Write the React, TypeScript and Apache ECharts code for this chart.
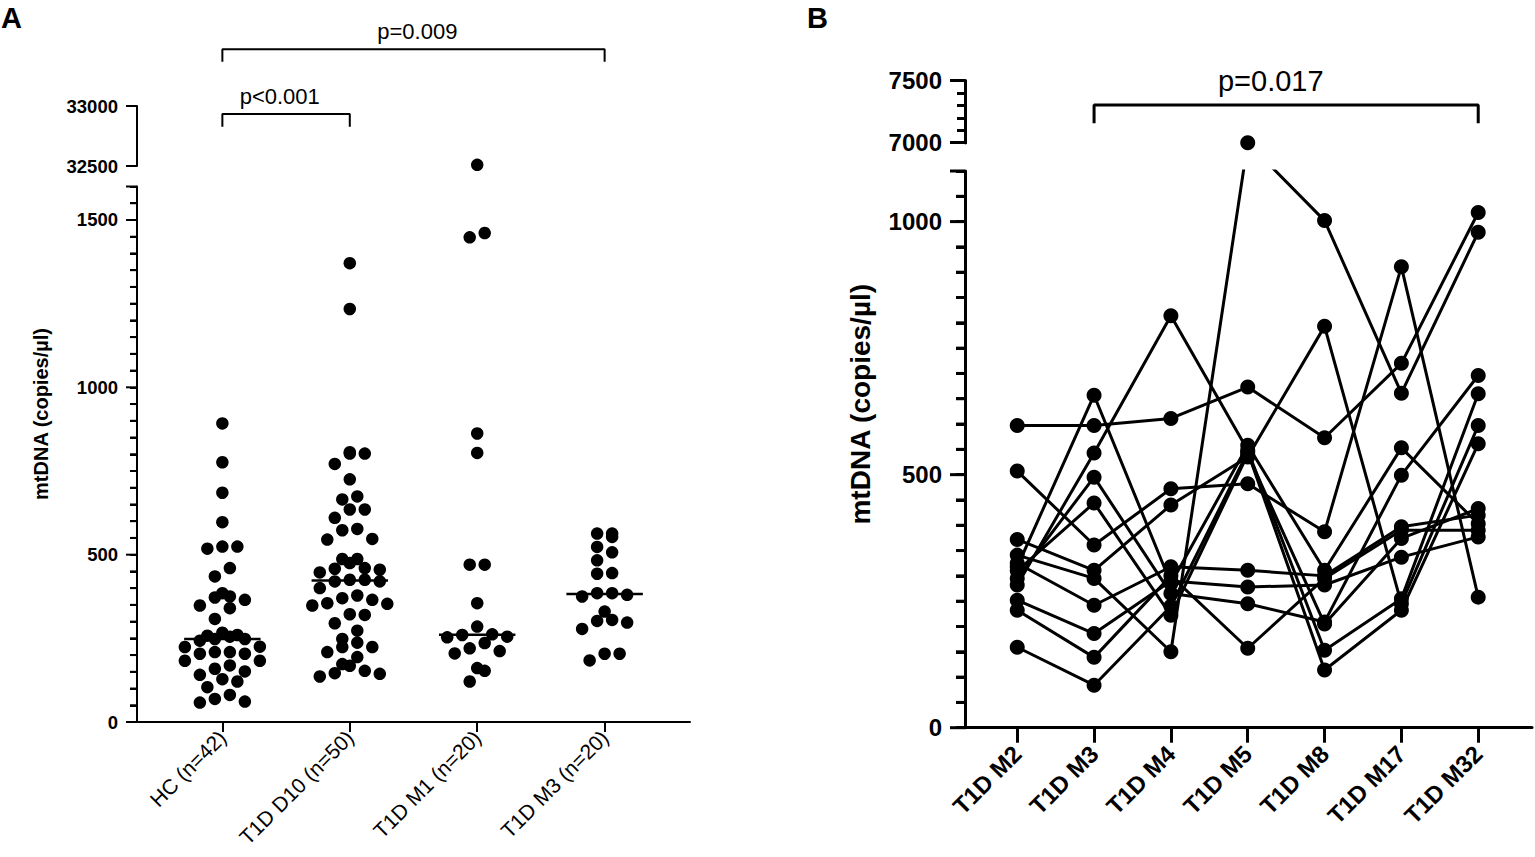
import React, { useEffect, useRef } from 'react';
import * as echarts from 'echarts';

const FONT = '"Liberation Sans", Arial, Helvetica, sans-serif';

// ---------- Panel A data ----------
const groupsA = ['HC (n=42)', 'T1D D10 (n=50)', 'T1D M1 (n=20)', 'T1D M3 (n=20)'];
const hcValues = [892, 776, 685, 597, 524, 518, 524, 460, 435, 372, 375, 385, 365, 340, 348, 308, 267, 258, 255, 248, 248, 243, 260, 224, 225, 204, 204, 209, 209, 183, 183, 159, 169, 141, 151, 128, 104, 81, 121, 58, 61, 69];
const d10Values = [1371, 1234, 806, 802, 802, 771, 725, 674, 665, 635, 635, 610, 577, 573, 547, 545, 487, 487, 475, 460, 458, 455, 447, 425, 425, 420, 420, 400, 378, 370, 365, 355, 353, 348, 322, 320, 295, 273, 248, 237, 224, 224, 209, 194, 173, 168, 153, 146, 144, 136];
const m1Values = [32510, 1461, 1448, 862, 804, 470, 470, 355, 285, 262, 260, 255, 253, 236, 220, 212, 205, 161, 153, 121];
const m3Values = [563, 563, 553, 523, 507, 483, 445, 443, 385, 385, 380, 375, 330, 305, 302, 297, 278, 204, 204, 184];
const ticksALower = [0, 500, 1000, 1500];
const ticksAUpper = [32500, 33000];
const pTextA1 = 'p=0.009';
const pTextA2 = 'p<0.001';

// ---------- Panel B data ----------
const timepointsB = ['T1D M2', 'T1D M3', 'T1D M4', 'T1D M5', 'T1D M8', 'T1D M17', 'T1D M32'];
const subj01 = [597, 597, 611, 673, 573, 720, 1018];
const subj02 = [507, 361, 472, 482, 387, 911, 258];
const subj03 = [372, 311, 440, 535, 793, 245, 597];
const subj04 = [341, 295, 150, 7000, 1002, 661, 979];
const subj05 = [325, 242, 318, 311, 300, 397, 420];
const subj06 = [318, 657, 285, 558, 311, 553, 403];
const subj07 = [310, 444, 222, 540, 205, 374, 433];
const subj08 = [295, 495, 265, 245, 209, 499, 696];
const subj09 = [282, 543, 814, 548, 153, 255, 660];
const subj10 = [252, 186, 290, 278, 282, 337, 377];
const subj11 = [232, 139, 300, 157, 295, 390, 390];
const subj12 = [159, 84, 240, 545, 114, 232, 561];
const ticksBLower = [0, 500, 1000];
const ticksBUpper = [7000, 7500];
const pTextB = 'p=0.017';

// ---------- layout (pixels) ----------
const LA = { left: 137, right: 690, upTop: 106, upBot: 166, loTop: 186.5, loBot: 722, loMax: 1600, upMin: 32500, upMax: 33000, xMin: -0.67, xMax: 3.67 };
const LB = { left: 965, right: 1532, upTop: 80.7, upBot: 142.7, loTop: 171, loBot: 727.7, loMax: 1100, upMin: 7000, upMax: 7500, xMin: -0.68, xMax: 6.7 };

function stepTicks(a: number, b: number, step: number) {
  const out: number[] = [];
  const n = Math.round((b - a) / step);
  for (let k = 0; k <= n; k++) out.push(a + k * step);
  return out;
}

function median(vals: number[]) {
  const s = [...vals].sort((a, b) => a - b);
  const n = s.length;
  return n % 2 ? s[(n - 1) / 2] : (s[n / 2 - 1] + s[n / 2]) / 2;
}

// Prism-like row beeswarm: values closer than binVal share a row, spread horizontally
function swarm(vals: number[], center: number, binVal: number, step: number) {
  const s = [...vals].sort((a, b) => a - b);
  const rows: number[][] = [];
  let cur: number[] = [];
  for (const v of s) {
    if (cur.length && v - cur[0] >= binVal) {
      rows.push(cur);
      cur = [];
    }
    cur.push(v);
  }
  if (cur.length) rows.push(cur);
  const pts: number[][] = [];
  rows.forEach((r) => {
    const n = r.length;
    r.forEach((v, k) => {
      const slot = k % 2 === 0 ? k / 2 : n - 1 - (k - 1) / 2;
      pts.push([center + (slot - (n - 1) / 2) * step, v]);
    });
  });
  return pts;
}

// map a value above the break into the lower grid's value space (screen-equivalent)
function toLowerB(v: number) {
  if (v <= LB.loMax) return v;
  const lowerPxPerUnit = (LB.loBot - LB.loTop) / LB.loMax;
  const upperPxPerUnit = (LB.upBot - LB.upTop) / (LB.upMax - LB.upMin);
  const px = (LB.loTop - LB.upBot) + (v - LB.upMin) * upperPxPerUnit;
  return LB.loMax + px / lowerPxPerUnit;
}

function xAxisDef(gridIndex: number, L: any, show: boolean, labels: string[], fontSize: number, weight: string, lw: number, tickLen: number, margin: number) {
  const idx = labels.map((_, i) => i);
  return {
    gridIndex, type: 'value', min: L.xMin, max: L.xMax, show,
    axisLine: { show: true, onZero: false, lineStyle: { color: '#000', width: lw } },
    axisTick: { show: true, customValues: idx, length: tickLen, lineStyle: { color: '#000', width: lw } },
    axisLabel: {
      show: true, customValues: idx, formatter: (v: number) => labels[Math.round(v)] ?? '',
      rotate: 45, fontSize, fontWeight: weight, color: '#000', fontFamily: FONT, margin,
    },
    splitLine: { show: false },
  };
}

function yAxisDef(gridIndex: number, min: number, max: number, tickVals: number[], labelVals: number[], fontSize: number, lw: number, tickLen: number, margin: number, showTicks = true) {
  return {
    gridIndex, type: 'value', min, max, position: 'left',
    axisLine: { show: true, onZero: false, lineStyle: { color: '#000', width: lw } },
    axisTick: { show: showTicks, customValues: tickVals, length: tickLen, lineStyle: { color: '#000', width: lw } },
    axisLabel: {
      show: true, customValues: labelVals, formatter: (v: number) => String(v),
      fontSize, fontWeight: 'bold', color: '#000', fontFamily: FONT, margin,
    },
    splitLine: { show: false },
  };
}

const ALL_TICKS_A_LO = stepTicks(0, LA.loMax, 50);
const ALL_TICKS_B_LO = stepTicks(0, LB.loMax, 50);
const ALL_TICKS_B_UP = stepTicks(LB.upMin, LB.upMax, 100);

// tick marks for the lower axis segments as small filled rects, placed with the grid's linear scale
function segmentTicks(L: any, vals: number[], len: number, lw: number) {
  const pxPerUnit = (L.loBot - L.loTop) / L.loMax;
  return vals.map((v) => {
    const y = L.loBot - v * pxPerUnit;
    return {
      type: 'rect', z: 1000, zlevel: 0, silent: true,
      shape: { x: L.left - len, y: y - lw / 2, width: len, height: lw },
      style: { fill: '#000' },
    };
  });
}

function buildGraphic() {
  const titleText = 'mtDNA (copies/µl)';
  const minorA = ALL_TICKS_A_LO.filter((v) => !ticksALower.includes(v) && v !== LA.loMax);
  const minorB = ALL_TICKS_B_LO.filter((v) => !ticksBLower.includes(v) && v !== LB.loMax);
  return [
    { type: 'text', x: 1, y: 18, style: { text: 'A', font: `bold 29px ${FONT}`, fill: '#000', textAlign: 'left', textVerticalAlign: 'middle', align: 'left', verticalAlign: 'middle' } },
    { type: 'text', x: 807, y: 18, style: { text: 'B', font: `bold 29px ${FONT}`, fill: '#000', textAlign: 'left', textVerticalAlign: 'middle', align: 'left', verticalAlign: 'middle' } },
    {
      type: 'text', x: 41, y: (LA.upTop + LA.loBot) / 2, rotation: Math.PI / 2,
      style: { text: titleText, font: `bold 20px ${FONT}`, fill: '#000', textAlign: 'center', textVerticalAlign: 'middle', align: 'center', verticalAlign: 'middle' },
    },
    {
      type: 'text', x: 860, y: (LB.upTop + LB.loBot) / 2, rotation: Math.PI / 2,
      style: { text: titleText, font: `bold 28px ${FONT}`, fill: '#000', textAlign: 'center', textVerticalAlign: 'middle', align: 'center', verticalAlign: 'middle' },
    },
    ...segmentTicks(LA, minorA, 7, 2),
    ...segmentTicks(LA, [...ticksALower, LA.loMax], 11, 2),
    ...segmentTicks(LB, minorB, 9, 3),
    ...segmentTicks(LB, [...ticksBLower, LB.loMax], 15, 3),
  ];
}

function buildOption() {
  const gA = { left: LA.left, width: LA.right - LA.left };
  const gB = { left: LB.left, width: LB.right - LB.left };
  const grid = [
    { ...gA, top: LA.upTop, height: LA.upBot - LA.upTop }, // 0 A upper
    { ...gA, top: LA.loTop, height: LA.loBot - LA.loTop }, // 1 A lower
    { ...gB, top: LB.upTop, height: LB.upBot - LB.upTop }, // 2 B upper
    { ...gB, top: LB.loTop, height: LB.loBot - LB.loTop }, // 3 B lower
  ].map((g) => ({ ...g, containLabel: false, outerBoundsMode: 'none', show: false }));

  const xAxis = [
    xAxisDef(0, LA, false, groupsA, 21, 'normal', 2, 10, 12),
    xAxisDef(1, LA, true, groupsA, 21, 'normal', 2, 10, 12),
    xAxisDef(2, LB, false, timepointsB, 24, 'bold', 3, 15, 22),
    xAxisDef(3, LB, true, timepointsB, 24, 'bold', 3, 15, 22),
  ];

  const yAxis = [
    yAxisDef(0, LA.upMin, LA.upMax, ticksAUpper, ticksAUpper, 18.5, 2, 11, 19), // 0
    yAxisDef(1, 0, LA.loMax, ALL_TICKS_A_LO, ticksALower, 18.5, 2, 7, 19), // 1
    yAxisDef(2, LB.upMin, LB.upMax, ALL_TICKS_B_UP.filter((v) => !ticksBUpper.includes(v)), ticksBUpper, 24, 3, 8, 23), // 2
    yAxisDef(3, 0, LB.loMax, ALL_TICKS_B_LO, ticksBLower, 24, 3, 9, 23), // 3
    { ...yAxisDef(2, LB.upMin, LB.upMax, ticksBUpper, [], 24, 3, 15, 23), axisLabel: { show: false } }, // 4
  ];

  const dot = { color: '#000', opacity: 1 };
  const series: any[] = [];

  const valuesA = [hcValues, d10Values, m1Values, m3Values];
  const stepA = 15 / ((LA.right - LA.left) / (LA.xMax - LA.xMin));
  valuesA.forEach((vals, gi) => {
    const pts = swarm(vals, gi, 33, stepA);
    series.push({
      type: 'scatter', xAxisIndex: 1, yAxisIndex: 1, symbolSize: 12.5, silent: true,
      itemStyle: dot, data: pts.filter((p) => p[1] <= LA.loMax),
    });
    const up = pts.filter((p) => p[1] > LA.loMax);
    if (up.length) {
      series.push({
        type: 'scatter', xAxisIndex: 0, yAxisIndex: 0, symbolSize: 12.5, silent: true, clip: false,
        itemStyle: dot, data: up,
      });
    }
    const m = median(vals);
    series.push({
      type: 'line', xAxisIndex: 1, yAxisIndex: 1, symbol: 'none', silent: true, z: 5,
      lineStyle: { color: '#000', width: 2.5, opacity: 1 }, data: [[gi - 0.3, m], [gi + 0.3, m]],
    });
  });

  const bracket = (xi: number, yi: number, a: number, b: number, top: number, foot: number, lw: number) => ({
    type: 'line', xAxisIndex: xi, yAxisIndex: yi, symbol: 'none', silent: true, clip: false,
    lineStyle: { color: '#000', width: lw, opacity: 1 }, data: [[a, foot], [a, top], [b, top], [b, foot]],
  });
  const pLabel = (xi: number, yi: number, x: number, y: number, text: string, size: number) => ({
    type: 'scatter', xAxisIndex: xi, yAxisIndex: yi, symbolSize: 1, silent: true, clip: false,
    itemStyle: { color: 'rgba(0,0,0,0)', opacity: 1 },
    label: { show: true, position: 'inside', formatter: text, fontSize: size, color: '#000', opacity: 1, fontFamily: FONT },
    data: [[x, y]],
  });
  series.push(bracket(0, 0, 0, 3, 33472, 33369, 2));
  series.push(bracket(0, 0, 0, 1, 32933, 32828, 2));
  series.push(pLabel(0, 0, 1.53, 33619, pTextA1, 22));
  series.push(pLabel(0, 0, 0.45, 33078, pTextA2, 22));

  // panel B
  const subjects = [subj01, subj02, subj03, subj04, subj05, subj06, subj07, subj08, subj09, subj10, subj11, subj12];
  subjects.forEach((s) => {
    series.push({
      type: 'line', xAxisIndex: 3, yAxisIndex: 3, symbol: 'circle', symbolSize: 15, showSymbol: true,
      silent: true, clip: true, lineStyle: { color: '#000', width: 3, opacity: 1 }, itemStyle: dot,
      data: s.map((v, i) => [i, toLowerB(v)]),
    });
  });
  const upB: number[][] = [];
  subjects.forEach((s) => s.forEach((v, i) => { if (v >= LB.upMin) upB.push([i, v]); }));
  series.push({
    type: 'scatter', xAxisIndex: 2, yAxisIndex: 2, symbolSize: 15, silent: true, clip: false,
    itemStyle: dot, data: upB,
  });
  series.push(bracket(2, 2, 1, 6, 7304, 7156, 3));
  series.push(pLabel(2, 2, 3.3, 7495, pTextB, 29));

  return {
    animation: false,
    backgroundColor: '#fff',
    textStyle: { fontFamily: FONT },
    grid, xAxis, yAxis, series, graphic: { elements: buildGraphic() },
  };
}

export default function App() {
  const ref = useRef<HTMLDivElement>(null);
  useEffect(() => {
    document.body.style.margin = '0';
    const chart = echarts.init(ref.current as HTMLDivElement, null, { renderer: 'svg' });
    chart.setOption(buildOption() as any);
    return () => chart.dispose();
  }, []);
  return <div ref={ref} style={{ width: 1535, height: 857 }} />;
}
